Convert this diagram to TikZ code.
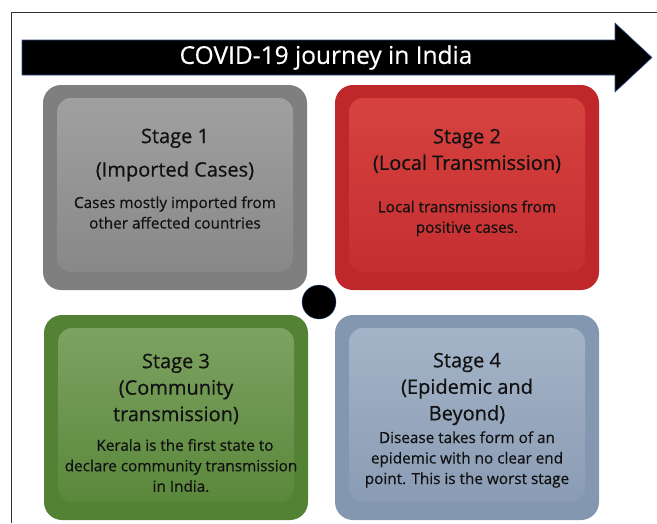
\documentclass[tikz,border=0pt]{standalone}
\usepackage{xcolor}
\usepackage{fontspec}
\setmainfont{Open Sans}[FakeBold=0.5]
\usepackage{tikz}
\usetikzlibrary{shapes, positioning}

\definecolor{ink}{HTML}{111111}
\definecolor{edgeblue}{HTML}{2F4F8F}
\definecolor{grayout}{HTML}{7F7F7F}
\definecolor{graytop}{HTML}{A0A0A0}
\definecolor{graybot}{HTML}{888888}
\definecolor{redout}{HTML}{C0272B}
\definecolor{redtop}{HTML}{D6433F}
\definecolor{redbot}{HTML}{C52E31}
\definecolor{greenout}{HTML}{548235}
\definecolor{greentop}{HTML}{7DA262}
\definecolor{greenbot}{HTML}{5A883B}
\definecolor{blueout}{HTML}{8497B0}
\definecolor{bluetop}{HTML}{A4B4C8}
\definecolor{bluebot}{HTML}{8A9CB4}

\begin{document}
\begin{tikzpicture}
  [
    x=1pt, y=-1pt,
    Outer/.style={rectangle, rounded corners=18pt, minimum width=264pt, minimum height=205pt, inner sep=0pt},
    Inner/.style={rectangle, rounded corners=14pt, minimum width=236pt, minimum height=174pt, inner sep=0pt},
    Head/.style={align=center, text=ink, font=\fontsize{20}{26.5}\selectfont},
    Body/.style={align=center, text=ink, font=\fontsize{15.3}{20.5}\selectfont},
    Hub/.style={circle, fill=black, draw=edgeblue, thin, minimum size=34pt, inner sep=0pt}
  ]
  \useasboundingbox (0, 0) rectangle (657, 523);

  % Frame
  \draw[black!80, line width=0.8pt] (11, 523) -- (11, 12) -- (657, 12);

  % Arrow
  \path [fill=black, draw=edgeblue, line width=0.6pt]
    (22, 40) -- (615, 40) -- (615, 23) -- (652, 57.5) -- (615, 92) -- (615, 75) -- (22, 75) -- cycle;
  \node[text=white, font=\fontsize{24.5}{28}\selectfont] (journey) at(326, 57.5) {COVID-19 journey in India};

  % Nodes
  \node[Outer, fill=grayout] (s1) at(175, 187.5) {};
  \node[Inner, top color=graytop, bottom color=graybot] (s1in) at(175, 185) {};

  \node[Outer, fill=redout] (s2) at(467, 187.5) {};
  \node[Inner, top color=redtop, bottom color=redbot] (s2in) at(467, 185) {};

  \node[Outer, fill=greenout] (s3) at(176, 417.5) {};
  \node[Inner, top color=greentop, bottom color=greenbot] (s3in) at(176, 415) {};

  \node[Outer, fill=blueout] (s4) at(467, 417.5) {};
  \node[Inner, top color=bluetop, bottom color=bluebot] (s4in) at(467, 415) {};

  \node[Hub] (hub) at(319, 302) {};

  % Texts
  \node[Head] (h1) at(175, 155) {Stage 1\\[7pt](Imported Cases)};
  \node[Body] (b1) at(175, 212.5) {Cases mostly imported from\\other affected countries};

  \node[Head] (h2) at(467, 151) {Stage 2\\(Local Transmission)};
  \node[Body] (b2) at(467, 218.5) {Local transmissions from\\positive cases.};

  \node[Head] (h3) at(176, 389) {Stage 3\\(Community\\transmission)};
  \node[Body] (b3) at(181, 465.5) {\hspace*{8pt}Kerala is the first state to\\declare community transmission\\in India.};

  \node[Head] (h4) at(467, 389) {Stage 4\\(Epidemic and\\Beyond)};
  \node[Body] (b4) at(467, 459.5) {Disease takes form of an\\epidemic with no clear end\\point. This is the worst stage};

\end{tikzpicture}
\end{document}
